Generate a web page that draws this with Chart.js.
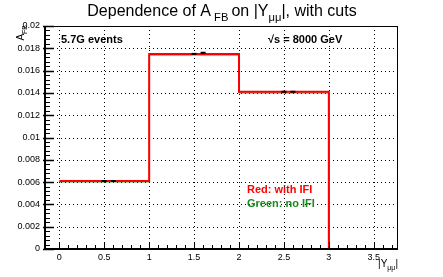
<!DOCTYPE html>
<html>
<head>
<meta charset="utf-8">
<script src="https://cdn.jsdelivr.net/npm/chart.js@4.4.1/dist/chart.umd.min.js"></script>
<style>
  html, body { margin: 0; padding: 0; background: #fff; }
  #wrap { width: 443px; height: 277px; }
</style>
</head>
<body>
<div id="wrap"><canvas id="myChart" width="443" height="277"></canvas></div>
<script>
// bin edges in |Y_mumu| and A_FB per bin
var binEdges = [0, 1, 2, 3];
var withIFI = [0.0061, 0.0175, 0.0141];   // red
var noIFI = [0.00602, 0.0174, 0.014];     // green

// small black error markers
var errX = [0.5, 0.6, 1.5, 1.6, 2.5, 2.6];
var errY = [0.0061, 0.0061, 0.0175, 0.0176, 0.0141, 0.0141];

var xTicks = [0, 0.5, 1, 1.5, 2, 2.5, 3, 3.5];
var yTicks = [0, 0.002, 0.004, 0.006, 0.008, 0.01, 0.012, 0.014, 0.016, 0.018, 0.02];

var FONT = '"Liberation Sans", Arial, sans-serif';

// Turn bin contents into a step outline
function steps(edges, vals) {
    var pts = [{ x: edges[0], y: vals[0] }];
    for (var i = 0; i < vals.length; i++) {
        pts.push({ x: edges[i + 1], y: vals[i] });
        if (i + 1 < vals.length) pts.push({ x: edges[i + 1], y: vals[i + 1] });
    }
    pts.push({ x: edges[edges.length - 1], y: 0 });
    return pts;
}

// Draw text with simple subscripts: parts = [[text, isSub], ...]
function drawParts(ctx, parts, x, y, size, align) {
    var total = 0;
    parts.forEach(function(p) {
        ctx.font = (p[1] ? size * 0.7 : size) + 'px ' + FONT;
        total += ctx.measureText(p[0]).width;
    });
    var cx = align === 'center' ? x - total / 2 : (align === 'right' ? x - total : x);
    parts.forEach(function(p) {
        ctx.font = (p[1] ? size * 0.7 : size) + 'px ' + FONT;
        ctx.fillText(p[0], cx, p[1] ? y + size * 0.3 : y);
        cx += ctx.measureText(p[0]).width;
    });
}

var rootStyle = {
    id: 'rootStyle',
    beforeDatasetsDraw: function(chart) {
        var ctx = chart.ctx, a = chart.chartArea;
        var xs = chart.scales.x, ys = chart.scales.y;
        ctx.save();
        ctx.strokeStyle = '#000';
        ctx.lineWidth = 1;
        ctx.setLineDash([1, 3]);
        xTicks.forEach(function(v) {
            var px = Math.round(xs.getPixelForValue(v)) + 0.5;
            ctx.beginPath(); ctx.moveTo(px, a.top); ctx.lineTo(px, a.bottom); ctx.stroke();
        });
        yTicks.forEach(function(v) {
            var py = Math.round(ys.getPixelForValue(v)) + 0.5;
            ctx.beginPath(); ctx.moveTo(a.left, py); ctx.lineTo(a.right, py); ctx.stroke();
        });
        ctx.restore();
    },
    afterDraw: function(chart) {
        var ctx = chart.ctx, a = chart.chartArea;
        var xs = chart.scales.x, ys = chart.scales.y;
        ctx.save();
        ctx.strokeStyle = '#000';
        // frame
        ctx.lineWidth = 1;
        ctx.strokeRect(a.left + 0.5, a.top + 0.5, a.right - a.left - 1, a.bottom - a.top - 1);
        ctx.lineWidth = 2;
        ctx.beginPath();
        ctx.moveTo(a.left, a.top); ctx.lineTo(a.left, a.bottom); ctx.lineTo(a.right, a.bottom);
        ctx.stroke();
        // y ticks (inward)
        for (var i = 0; i <= 50; i++) {
            var v = i * 0.0004;
            var py = Math.round(ys.getPixelForValue(v)) + 0.5;
            var major = i % 5 === 0;
            ctx.lineWidth = major ? 1.5 : 1;
            ctx.beginPath(); ctx.moveTo(a.left - (major ? 2 : 0), py); ctx.lineTo(a.left + (major ? 9 : 5), py); ctx.stroke();
        }
        // x ticks (inward)
        ctx.lineWidth = 1;
        for (var j = 0; j <= 37; j++) {
            var xv = j * 0.1;
            var px = Math.round(xs.getPixelForValue(xv)) + 0.5;
            if (px > a.right) break;
            var l2 = j % 5 === 0 ? 7 : 4;
            ctx.beginPath(); ctx.moveTo(px, a.bottom); ctx.lineTo(px, a.bottom - l2); ctx.stroke();
        }

        // title
        ctx.fillStyle = '#000';
        ctx.textBaseline = 'alphabetic';
        drawParts(ctx, [['Dependence of A', false], [' FB ', true], ['on |Y', false], ['\u03bc\u03bc', true], ['|, with cuts', false]], 222, 16, 16, 'center');

        // y axis title
        ctx.save();
        ctx.translate(24, 25);
        ctx.rotate(-Math.PI / 2);
        drawParts(ctx, [['A', false], ['FB', true]], 0, 0, 10, 'right');
        ctx.restore();

        // x axis title
        drawParts(ctx, [['|Y', false], ['\u03bc\u03bc', true], ['|', false]], 398, 267, 10, 'right');

        // annotations
        ctx.font = 'bold 11px ' + FONT;
        ctx.textAlign = 'left';
        ctx.fillText('5.7G events', 61, 43);
        ctx.fillText('\u221As = 8000 GeV', 268, 43);
        ctx.fillStyle = '#ff0000';
        ctx.fillText('Red: with IFI', 247, 193);
        ctx.fillStyle = '#1a8a1a';
        ctx.fillText('Green: no IFI', 247, 207);
        ctx.restore();
    }
};

var ctx = document.getElementById('myChart').getContext('2d');
var myChart = new Chart(ctx, {
    type: 'scatter',
    data: {
        datasets: [{
            label: 'errors',
            order: 0,
            data: errX.map(function(x, i) { return { x: x, y: errY[i] }; }),
            showLine: false,
            pointStyle: 'line',
            pointRadius: 2.5,
            borderColor: '#000',
            borderWidth: 2
        }, {
            label: 'with IFI',
            order: 1,
            data: steps(binEdges, withIFI),
            showLine: true,
            borderColor: '#ff0000',
            borderWidth: 2,
            pointRadius: 0
        }, {
            label: 'no IFI',
            order: 2,
            data: steps(binEdges, noIFI),
            showLine: true,
            borderColor: '#2e8b1e',
            borderWidth: 1,
            pointRadius: 0
        }]
    },
    options: {
        responsive: false,
        animation: false,
        layout: { padding: { left: 0, right: 45, top: 26, bottom: 0 } },
        plugins: {
            legend: { display: false },
            title: { display: false },
            tooltip: { enabled: false }
        },
        scales: {
            x: {
                type: 'linear',
                min: -0.16,
                max: 3.77,
                grid: { display: false, drawTicks: false },
                border: { display: false },
                afterBuildTicks: function(scale) {
                    scale.ticks = xTicks.map(function(v) { return { value: v }; });
                },
                afterFit: function(scale) { scale.height = 28; },
                ticks: {
                    padding: 3,
                    color: '#000',
                    font: { family: FONT, size: 9 },
                    maxRotation: 0,
                    callback: function(v) { return String(v); }
                }
            },
            y: {
                type: 'linear',
                min: 0,
                max: 0.02,
                grid: { display: false, drawTicks: false },
                border: { display: false },
                afterBuildTicks: function(scale) {
                    scale.ticks = yTicks.map(function(v) { return { value: v }; });
                },
                afterFit: function(scale) { scale.width = 45; },
                ticks: {
                    padding: 5,
                    color: '#000',
                    font: { family: FONT, size: 9 },
                    callback: function(v) { return String(parseFloat(v.toFixed(3))); }
                }
            }
        }
    },
    plugins: [rootStyle]
});
</script>
</body>
</html>
